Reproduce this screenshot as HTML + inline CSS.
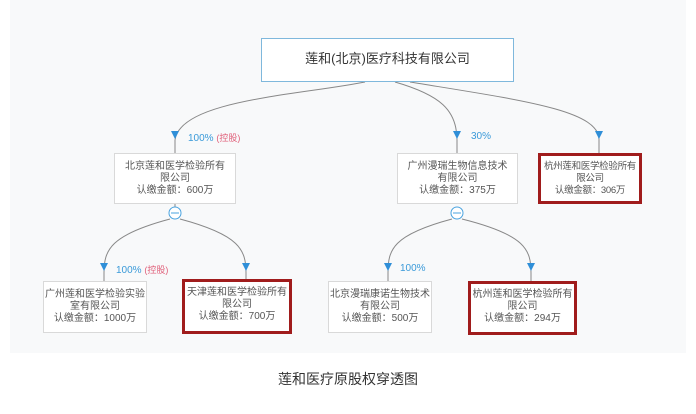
<!DOCTYPE html>
<html><head><meta charset="utf-8"><style>
body{margin:0;width:696px;height:414px;background:#fff;position:relative;overflow:hidden;font-family:"Liberation Sans","Noto Sans CJK SC",sans-serif;}
.bg{position:absolute;left:10px;top:0;width:676px;height:353px;background:#f8f9fa;}
.b{position:absolute;box-sizing:border-box;background:#fff;border:1px solid #d9d9d9;text-align:center;font-size:10px;color:#555;line-height:12px;padding-top:7px;white-space:nowrap;}
.r{border:3px solid #a01c1c;padding-top:5px;}
.l{position:absolute;font-size:10px;color:#3a9ad9;}
.l span{color:#e0607a;font-size:9px;}
</style></head><body>
<div class="bg"></div>
<svg width="696" height="414" style="position:absolute;left:0;top:0">
<g fill="none" stroke="#888" stroke-width="1">
<path d="M365,82 C300,95 180,100 175,140"/>
<path d="M395,82 C440,95 457,110 457,140"/>
<path d="M410,82 C520,100 600,110 599,140"/>
<path d="M175,204 L175,207"/>
<path d="M170,219 C110,235 104,250 104,273 M104,273 L104,281"/>
<path d="M180,219 C240,235 246,250 246,273 M246,273 L246,281"/>
<path d="M452,219 C392,235 388,250 388,273 M388,273 L388,281"/>
<path d="M462,219 C526,235 531,250 531,273 M531,273 L531,281"/>
<path d="M175,140 L175,153 M457,140 L457,153 M599,140 L599,153"/>
</g>
<g fill="#2f8fd8">
<path d="M171,131 L179,131 L175,139Z"/><path d="M453,131 L461,131 L457,139Z"/><path d="M595,131 L603,131 L599,139Z"/>
<path d="M100,263 L108,263 L104,271Z"/><path d="M242,263 L250,263 L246,271Z"/><path d="M384,263 L392,263 L388,271Z"/><path d="M527,263 L535,263 L531,271Z"/>
</g>
<g fill="#fff" stroke="#4aa3df"><circle cx="175" cy="213" r="6"/><circle cx="457" cy="213" r="6"/></g>
<g stroke="#4aa3df"><path d="M171,213 H179 M453,213 H461"/></g>
</svg>
<div class="b" style="left:261px;top:38px;width:253px;height:44px;border-color:#7fb8dc;font-size:13px;color:#333;padding-top:14px">莲和(北京)医疗科技有限公司</div>
<div class="l" style="left:188px;top:131px">100% <span>(控股)</span></div>
<div class="l" style="left:471px;top:131px">30%</div>
<div class="b" style="left:114px;top:153px;width:122px;height:51px">北京莲和医学检验所有<br>限公司<br>认缴金额：600万</div>
<div class="b" style="left:397px;top:153px;width:121px;height:51px">广州漫瑞生物信息技术<br>有限公司<br>认缴金额：375万</div>
<div class="b r" style="left:538px;top:153px;width:104px;height:51px;font-size:9.5px;letter-spacing:-0.3px">杭州莲和医学检验所有<br>限公司<br>认缴金额：306万</div>
<div class="l" style="left:116px;top:263px">100% <span>(控股)</span></div>
<div class="l" style="left:400px;top:263px">100%</div>
<div class="b" style="left:43px;top:281px;width:104px;height:52px">广州莲和医学检验实验<br>室有限公司<br>认缴金额：1000万</div>
<div class="b r" style="left:182px;top:279px;width:110px;height:55px">天津莲和医学检验所有<br>限公司<br>认缴金额：700万</div>
<div class="b" style="left:328px;top:281px;width:104px;height:52px">北京漫瑞康诺生物技术<br>有限公司<br>认缴金额：500万</div>
<div class="b r" style="left:468px;top:281px;width:109px;height:54px">杭州莲和医学检验所有<br>限公司<br>认缴金额：294万</div>
<div style="position:absolute;left:0;width:696px;top:369px;text-align:center;font-size:14px;color:#333">莲和医疗原股权穿透图</div>
</body></html>
